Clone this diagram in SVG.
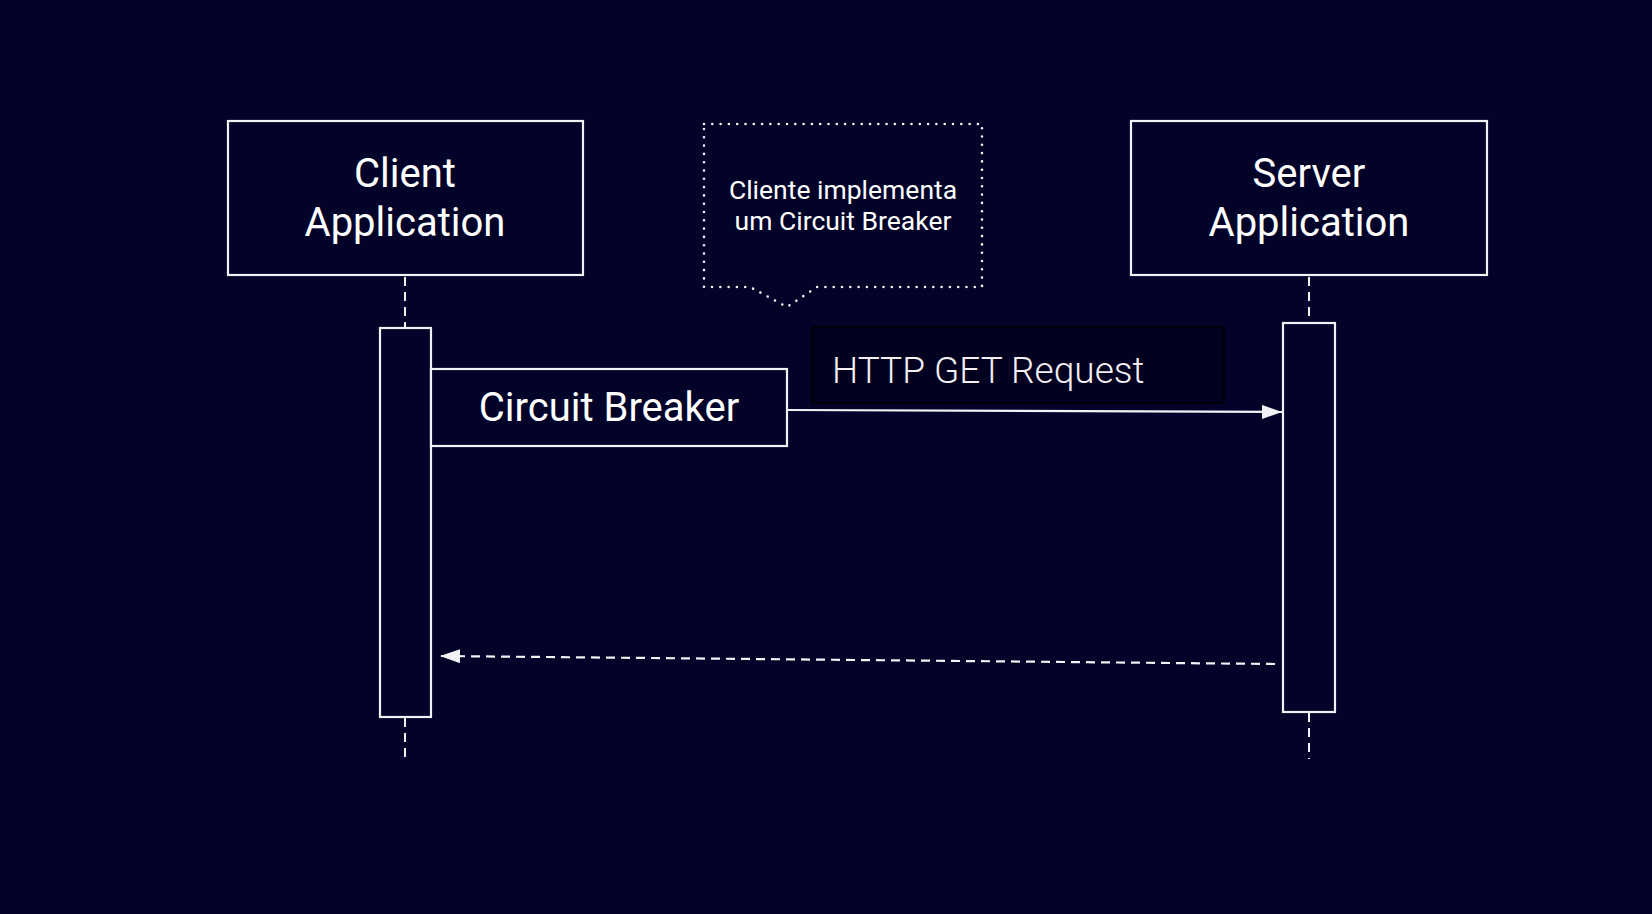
<svg xmlns="http://www.w3.org/2000/svg" width="1652" height="914" viewBox="0 0 1652 914">
<defs>
<style>
.box{fill:#03032a;stroke:#f2f2f5;stroke-width:2.2}
.life{stroke:#f2f2f5;stroke-width:2;stroke-dasharray:9 6;fill:none}
.lbl{font-family:Roboto,"Liberation Sans",sans-serif;fill:#ffffff;text-anchor:middle}
.big{font-size:40px}
.note{font-size:26.5px}
.thin{font-family:Roboto,"Liberation Sans",sans-serif;font-weight:300;font-size:37px;fill:#f4f0f4}
.msg{stroke:#f2f2f5;stroke-width:2.2;fill:none}
</style>
<marker id="arr" viewBox="0 0 20 14" refX="20" refY="7" markerWidth="20" markerHeight="14" markerUnits="userSpaceOnUse" orient="auto">
<path d="M0,0 L20,7 L0,14 Z" fill="#f2f2f5"/>
</marker>
</defs>
<rect x="0" y="0" width="1652" height="914" fill="#03032a"/>

<g id="lifelines">
<line class="life" x1="405" y1="277" x2="405" y2="328"/>
<line class="life" x1="405" y1="718" x2="405" y2="763"/>
<line class="life" x1="1309" y1="277" x2="1309" y2="323"/>
<line class="life" x1="1309" y1="713" x2="1309" y2="759"/>
</g>

<g id="client">
<rect class="box" x="228" y="121" width="355" height="154"/>
<text class="lbl big" x="405" y="187">Client</text>
<text class="lbl big" x="405" y="236">Application</text>
</g>

<g id="server">
<rect class="box" x="1131" y="121" width="356" height="154"/>
<text class="lbl big" x="1309" y="187">Server</text>
<text class="lbl big" x="1309" y="236">Application</text>
</g>

<g id="note">
<path d="M704,124 H982 V287 H817 L787,307 L750,287 H704 Z" fill="none" stroke="#f2f2f5" stroke-width="2.6" stroke-linecap="round" stroke-dasharray="0 8.3"/>
<text class="lbl note" x="843" y="199">Cliente implementa</text>
<text class="lbl note" x="843" y="230">um Circuit Breaker</text>
</g>

<g id="client-activation">
<rect class="box" x="380" y="328" width="51" height="389"/>
</g>

<g id="server-activation">
<rect class="box" x="1283" y="323" width="52" height="389"/>
</g>

<g id="circuit-breaker">
<rect class="box" x="431" y="369" width="356" height="77"/>
<text class="lbl big" x="609" y="421">Circuit Breaker</text>
</g>

<g id="http-label">
<rect x="812" y="327" width="412" height="76" fill="#020220" stroke="#000008" stroke-width="2"/>
<text class="thin" x="832" y="383">HTTP GET Request</text>
</g>

<g id="connectors">
<line class="msg" x1="787" y1="410" x2="1282" y2="412" marker-end="url(#arr)"/>
<line class="msg" x1="1275" y1="664" x2="440" y2="656" stroke-dasharray="9 6" marker-end="url(#arr)"/>
</g>
</svg>
